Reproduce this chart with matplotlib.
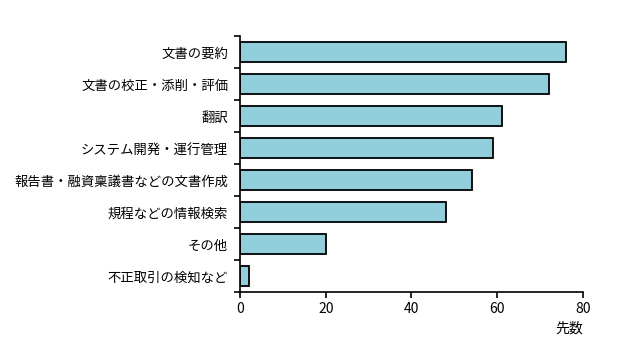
import matplotlib
matplotlib.use("Agg")
import matplotlib.pyplot as plt
import numpy as np

plt.rcParams['font.family'] = ['Noto Sans CJK JP', 'DejaVu Sans']

categories = ["文書の要約", "文書の校正・添削・評価", "翻訳", "システム開発・運行管理",
              "報告書・融資稟議書などの文書作成", "規程などの情報検索", "その他", "不正取引の検知など"]
values = [76, 72, 61, 59, 54, 48, 20, 2]
xticks = [0, 20, 40, 60, 80]
xlabel = "先数"

fig = plt.figure(figsize=(6.19, 3.63), dpi=100)
ax = fig.add_axes([0.3877, 0.195, 0.5541, 0.706])

y = np.arange(len(categories))
ax.barh(y, values, height=0.62, color="#92CDDC", edgecolor="black", linewidth=1.3)
ax.set_ylim(len(categories) - 0.5, -0.5)
ax.set_xlim(0, 80)
ax.set_xticks(xticks)
ax.set_yticks(y)
ax.set_yticklabels(categories, fontsize=9.6)
ax.set_yticks(np.arange(len(categories) + 1) - 0.5, minor=True)
ax.tick_params(axis='y', which='major', length=0, pad=8.5)
ax.tick_params(axis='y', which='minor', length=4, width=1.2, direction='out')
ax.tick_params(axis='x', length=4, width=1.2, labelsize=10, pad=3)
for s in ['top', 'right']:
    ax.spines[s].set_visible(False)
for s in ['left', 'bottom']:
    ax.spines[s].set_linewidth(1.2)
ax.text(1.0, -0.115, xlabel, transform=ax.transAxes, ha='right', va='top', fontsize=10)

fig.savefig("out.png", dpi=100)
